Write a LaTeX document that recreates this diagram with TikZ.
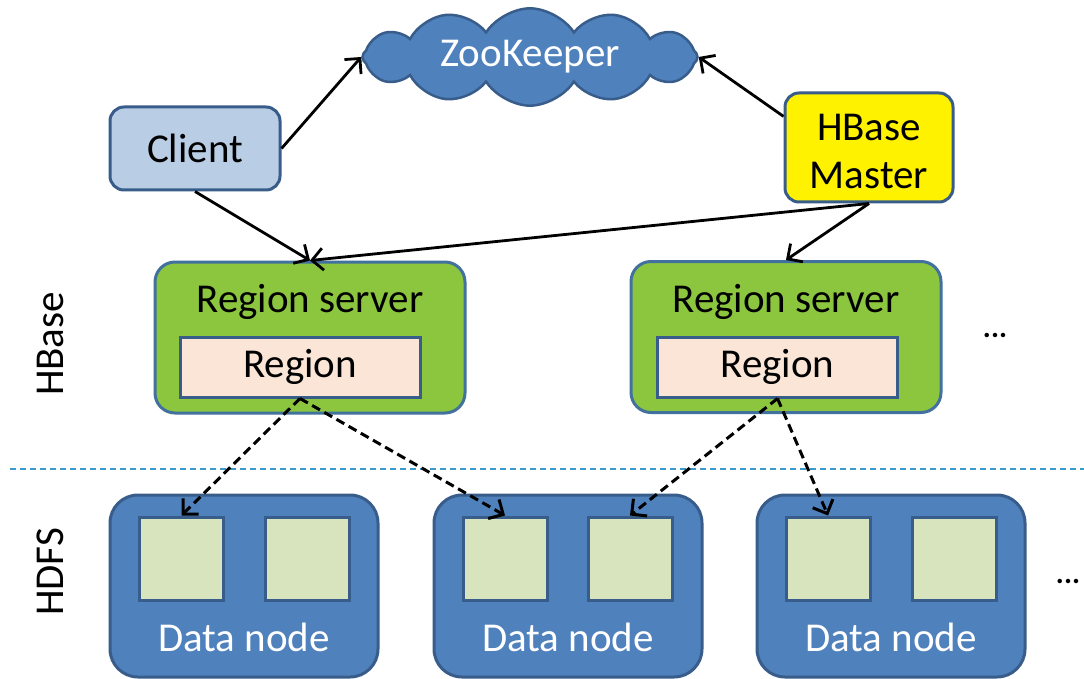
\documentclass[tikz,border=0pt]{standalone}
\usepackage{fontspec}
\setmainfont{Carlito}
\usetikzlibrary{shapes.symbols,arrows.meta}
\definecolor{bluefill}{HTML}{4F81BD}
\definecolor{blueline}{HTML}{385D8A}
\definecolor{clientfill}{HTML}{B9CDE5}
\definecolor{rsfill}{HTML}{8CC63F}
\definecolor{rsline}{HTML}{41719C}
\definecolor{regfill}{HTML}{FBE5D6}
\definecolor{sqfill}{HTML}{D7E4BD}
\definecolor{sepline}{HTML}{3A9AC9}
\tikzset{
  big/.style={font=\fontsize{41}{48}\selectfont},
  box/.style={draw=blueline, line width=3pt, rounded corners=14pt, inner sep=0pt},
  rsbox/.style={draw=rsline, fill=rsfill, line width=3pt, rounded corners=20pt, inner sep=0pt, minimum width=310pt, minimum height=151pt},
  regbox/.style={draw=blueline, fill=regfill, line width=3pt, inner sep=0pt, minimum width=240pt, minimum height=60pt},
  dnbox/.style={draw=blueline, fill=bluefill, line width=3pt, rounded corners=28pt, inner sep=0pt, minimum width=268pt, minimum height=182pt},
  sq/.style={draw=blueline, fill=sqfill, line width=3pt, inner sep=0pt, minimum width=84pt, minimum height=83pt},
  arr/.style={line width=2.8pt, -{Straight Barb[length=11pt,width=22pt,line width=2.8pt]}},
  darr/.style={line width=3pt, dash pattern=on 9pt off 5pt, -{Straight Barb[length=11pt,width=22pt,line width=3pt]}},
  lbl/.style={big, text=black},
  wlbl/.style={big, text=white},
}
\begin{document}
\begin{tikzpicture}[x=1pt,y=-1pt]
\useasboundingbox (0,0) rectangle (1084,679);
\fill[white] (0,0) rectangle (1084,679);

% separator
\draw[sepline, line width=1.2pt, dash pattern=on 6pt off 4pt] (10,469) -- (1084,469);

% side labels
\node[lbl, rotate=90] (lhbase) at (50,344) {HBase};
\node[lbl, rotate=90] (lhdfs) at (50,572) {HDFS};

% top nodes
\node[cloud, cloud puffs=12, cloud puff arc=115, aspect=4, draw=blueline, fill=bluefill, line width=2.5pt, inner sep=0pt, minimum width=335pt, minimum height=82pt, wlbl] (zk) at (530,57) {ZooKeeper};
\node[box, fill=clientfill, minimum width=170pt, minimum height=83pt, lbl] (client) at (195,148.5) {Client};
\node[box, fill=yellow, minimum width=168pt, minimum height=109pt, lbl, align=center] (master) at (869,147.5) {};
\node[lbl, align=center] (mastert) at (869,151) {HBase\\Master};

% region servers
\node[rsbox] (rs1) at (310,337.5) {};
\node[lbl] (rs1t) at (310,302) {Region server};
\node[regbox, lbl] (reg1) at (300,367) {Region};
\node[rsbox] (rs2) at (786,337) {};
\node[lbl] (rs2t) at (786,302) {Region server};
\node[regbox, lbl] (reg2) at (777.5,367) {Region};
\node[font=\fontsize{30}{30}\selectfont\bfseries] (dots1) at (995,335) {...};

% data nodes
\node[dnbox] (dn1) at (244,586) {};
\node[sq] (s1a) at (181.5,558.5) {};
\node[sq] (s1b) at (307.5,558.5) {};
\node[wlbl] (dn1t) at (244,637) {Data node};
\node[dnbox] (dn2) at (568,586) {};
\node[sq] (s2a) at (505,558.5) {};
\node[sq] (s2b) at (630,558.5) {};
\node[wlbl] (dn2t) at (568,637) {Data node};
\node[dnbox] (dn3) at (891,586) {};
\node[sq] (s3a) at (828,558.5) {};
\node[sq] (s3b) at (954,558.5) {};
\node[wlbl] (dn3t) at (891,637) {Data node};
\node[font=\fontsize{30}{30}\selectfont\bfseries] (dots2) at (1068,581) {...};

% connectors
\draw[arr] (client.east) -- (zk.west);
\draw[arr] (master.160) -- (zk.east);
\draw[arr] (client.south) -- (rs1.north);
\draw[arr] (master.south) -- (rs1.north);
\draw[arr] (master.south) -- (rs2.north);
\draw[darr] (reg1.south) -- (s1a.north);
\draw[darr] (reg1.south) -- (s2a.north);
\draw[darr] (reg2.south) -- (s2b.north);
\draw[darr] (reg2.south) -- (s3a.north);
\end{tikzpicture}
\end{document}
